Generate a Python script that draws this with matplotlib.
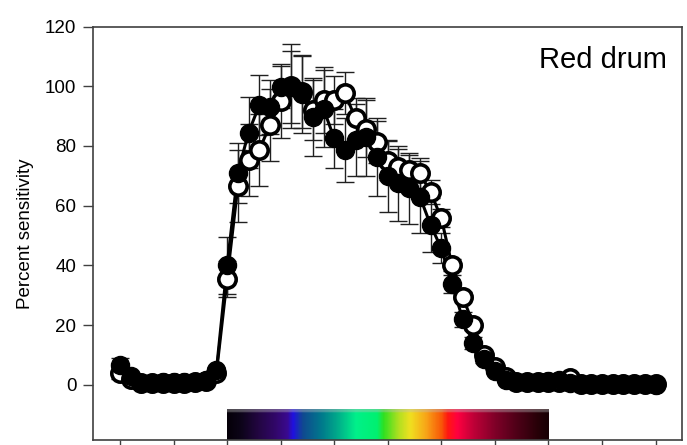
import numpy as np
import matplotlib
matplotlib.use("Agg")
import matplotlib.pyplot as plt
from matplotlib.colors import LinearSegmentedColormap

plt.rcParams['font.family'] = ['Liberation Sans', 'DejaVu Sans']

# Wavelength (nm) and spectral sensitivity (%) for the two series
wavelength = list(range(300, 801, 10))

filled_vals = [6.5, 2.8, 0.5, 0.5, 0.8, 0.8, 0.8, 1.0, 1.7, 4.8,
               40.0, 71.0, 84.5, 93.6, 93.0, 99.8, 99.8, 97.5, 89.7, 92.5,
               82.5, 78.6, 82.0, 83.0, 76.4, 70.0, 67.5, 65.8, 63.0, 53.5,
               45.7, 33.8, 22.0, 14.1, 8.8, 4.5, 1.5, 1.0, 1.0, 1.0,
               1.2, 1.5, 0.5, 0.3, 0.2, 0.2, 0.2, 0.2, 0.2, 0.2, 0.0]
filled_err = [2.5, 1.0, 0.5, 0.5, 0.5, 0.5, 0.5, 0.5, 0.5, 1.0,
              9.5, 10.0, 12.0, 10.0, 9.0, 7.0, 12.0, 13.0, 13.0, 13.0,
              10.0, 10.7, 12.0, 13.0, 13.0, 12.0, 12.5, 12.0, 12.0, 9.0,
              5.0, 3.0, 2.5, 2.0, 1.5, 1.0, 0.5, 0.5, 0.5, 0.5,
              0.5, 0.5, 0.5, 0.5, 0.5, 0.5, 0.5, 0.5, 0.5, 0.5, 0.5]

open_vals = [3.9, 2.0, 0.5, 0.5, 0.5, 0.5, 0.5, 0.8, 1.2, 4.0,
             35.5, 66.5, 75.3, 78.6, 87.0, 95.0, 100.0, 98.0, 92.0, 95.3,
             95.5, 97.6, 89.2, 85.8, 81.4, 75.0, 73.0, 71.9, 70.8, 64.5,
             55.8, 40.0, 29.5, 20.0, 10.0, 6.1, 2.5, 1.0, 1.0, 1.0,
             1.0, 1.0, 2.2, 0.3, 0.3, 0.3, 0.3, 0.3, 0.3, 0.3, 0.3]
open_err = [2.0, 1.0, 0.5, 0.5, 0.5, 0.5, 0.5, 0.5, 0.5, 1.0,
            6.0, 12.0, 12.0, 12.0, 12.0, 12.5, 14.0, 12.0, 10.0, 11.0,
            8.0, 7.0, 7.0, 9.5, 7.0, 6.5, 6.0, 5.0, 5.0, 4.0,
            3.0, 2.0, 1.5, 1.5, 1.0, 1.0, 0.5, 0.5, 0.5, 0.5,
            0.5, 0.5, 0.5, 0.5, 0.5, 0.5, 0.5, 0.5, 0.5, 0.5, 0.5]

y_ticks = [0, 20, 40, 60, 80, 100, 120]
x_ticks = list(range(300, 801, 50))

# Visible spectrum strip (wavelength, colour)
spectrum_nm = [400, 412, 428, 445, 456, 461, 470, 488, 502, 520,
               540, 546, 560, 571, 585, 600, 606, 615, 630, 650, 670, 690, 700]
spectrum_col = ['#050008', '#0c0418', '#220640', '#32076a', '#3a0a90', '#2010e0',
                '#104890', '#007a8c', '#00a88a', '#00f08a', '#00f070', '#30e020',
                '#b0e020', '#f0e020', '#f8a818', '#f85808', '#ff1810', '#ff0040',
                '#c00038', '#800028', '#500018', '#280008', '#180004']

fig = plt.figure(figsize=(6.87, 4.45), dpi=100)
ax = fig.add_axes([0.1354, 0.0112, 0.8573, 0.9292])

ax.errorbar(wavelength, filled_vals, yerr=filled_err, fmt='none',
            ecolor='#202020', elinewidth=1.0, capsize=6.5, capthick=1.0, zorder=2)
ax.errorbar(wavelength, open_vals, yerr=open_err, fmt='none',
            ecolor='#202020', elinewidth=1.0, capsize=6.5, capthick=1.0, zorder=2)

ax.plot(wavelength, filled_vals, '-', color='black', lw=2.2, zorder=3)
ax.plot(wavelength, open_vals, '-', color='black', lw=2.2, zorder=3)
ax.plot(wavelength, open_vals, 'o', ms=12.5, mfc='white', mec='black',
        mew=2.6, zorder=4)
ax.plot(wavelength, filled_vals, 'o', ms=13, mfc='black', mec='black',
        mew=1, zorder=5)

# Spectrum strip along the bottom of the plot
lo, hi = spectrum_nm[0], spectrum_nm[-1]
positions = [(w - lo) / (hi - lo) for w in spectrum_nm]
cmap = LinearSegmentedColormap.from_list('spectrum', list(zip(positions, spectrum_col)))
grad = np.linspace(0, 1, 600)
strip = cmap(grad)[None, :, :].repeat(20, axis=0)
# lighter rim along the top edge of the strip
strip[-2:, :, :3] = strip[-2:, :, :3] * 0.6 + 0.4 * 0.75
ax.imshow(strip, extent=[lo, hi, -18.5, -8.2], aspect='auto',
          origin='lower', interpolation='bilinear', zorder=1)

ax.set_xlim(274.8, 824.7)
ax.set_ylim(-18.5, 120)
ax.set_xticks(x_ticks)
ax.set_xticklabels([])
ax.set_yticks(y_ticks)
ax.tick_params(axis='both', direction='out', length=7, width=1.0,
               color='#404040', labelsize=13.5, pad=5)
for s in ax.spines.values():
    s.set_color('#404040')
    s.set_linewidth(1.2)

ax.set_ylabel('Percent sensitivity', fontsize=13.5, labelpad=8)
ax.text(0.975, 0.9, 'Red drum', transform=ax.transAxes, ha='right',
        va='baseline', fontsize=21)

fig.savefig('out.png', dpi=100)
